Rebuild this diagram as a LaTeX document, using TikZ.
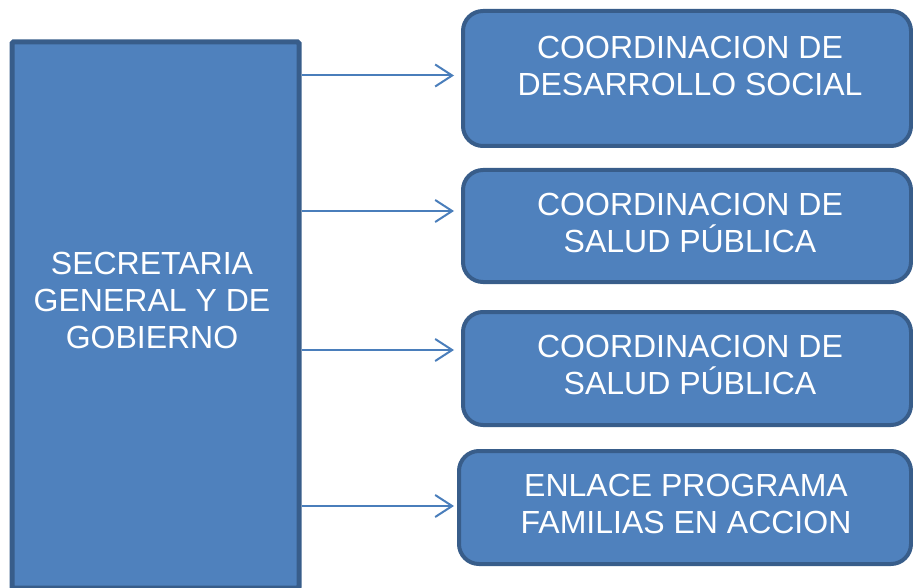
\documentclass[tikz,border=0pt]{standalone}
\usepackage{fontspec}
\setmainfont{Liberation Sans}
\usetikzlibrary{arrows.meta,calc}
\definecolor{boxfill}{HTML}{4F81BD}
\definecolor{boxline}{HTML}{385D8A}
\definecolor{arrcol}{HTML}{4A7EBB}
\tikzset{
  orgbox/.style={draw=boxline, fill=boxfill, line width=4pt, rounded corners=20pt, inner sep=0pt},
  mainbox/.style={draw=boxline, fill=boxfill, line width=5pt, rounded corners=1.5pt, inner sep=0pt},
  lbl/.style={text=white, align=center, font=\fontsize{32}{37}\selectfont, inner sep=0pt},
  arr/.style={draw=arrcol, line width=2pt, -{Straight Barb[length=17pt,width=22pt,line width=2pt]}, shorten >=7pt}
}
\begin{document}
\begin{tikzpicture}[x=1pt,y=-1pt]
\useasboundingbox (0,0) rectangle (913,588);
% main box
\node[mainbox, minimum width=287pt, minimum height=546pt, anchor=north west] (sec) at (9.5,39.5) {};
\node[lbl] (tsec) at (152,300) {SECRETARIA\\GENERAL Y DE\\GOBIERNO};
% right boxes
\node[orgbox, minimum width=448pt, minimum height=135pt, anchor=north west] (b1) at (461,9) {};
\node[orgbox, minimum width=448pt, minimum height=112pt, anchor=north west] (b2) at (461,168) {};
\node[orgbox, minimum width=448pt, minimum height=113pt, anchor=north west] (b3) at (461,310) {};
\node[orgbox, minimum width=452pt, minimum height=113pt, anchor=north west] (b4) at (457,449) {};
\node[lbl] (t1) at (690,66) {COORDINACION DE\\DESARROLLO SOCIAL};
\node[lbl] (t2) at (690,222.5) {COORDINACION DE\\SALUD PÚBLICA};
\node[lbl] (t3) at (690,365) {COORDINACION DE\\SALUD PÚBLICA};
\node[lbl] (t4) at (686,504) {ENLACE PROGRAMA\\FAMILIAS EN ACCION};
% arrow heights
\coordinate (y1) at (0,75.5);
\coordinate (y2) at (0,211);
\coordinate (y3) at (0,350);
\coordinate (y4) at (0,506);
\draw[arr] (sec.east |- y1) -- (b1.west |- y1);
\draw[arr] (sec.east |- y2) -- (b2.west |- y2);
\draw[arr] (sec.east |- y3) -- (b3.west |- y3);
\draw[arr,shorten >=3pt] (sec.east |- y4) -- (b4.west |- y4);
\end{tikzpicture}
\end{document}
